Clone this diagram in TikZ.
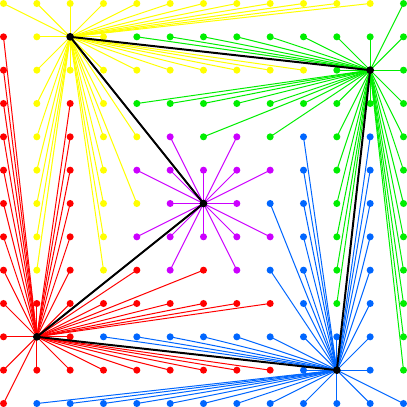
\documentclass[tikz,border=0pt]{standalone}

\definecolor{ptY}{RGB}{255,255,0}
\definecolor{ptG}{RGB}{0,238,0}
\definecolor{ptB}{RGB}{0,102,255}
\definecolor{ptR}{RGB}{255,0,0}
\definecolor{ptP}{RGB}{204,0,255}

\tikzset{
    spoke/.style={line width=0.85pt},
    site/.style={radius=3pt},
    hub/.style={radius=3.3pt},
    frame/.style={line width=1.7pt, line join=round}
}

\begin{document}
\begin{tikzpicture}[
    x=1cm,
    y=-1cm
]
\useasboundingbox (-0.105,-0.105) rectangle (12.105,12.105);

% 1. Hub positions
\coordinate (cY) at (2,1);
\coordinate (cG) at (11,2);
\coordinate (cB) at (10,11);
\coordinate (cR) at (1,10);
\coordinate (cP) at (6,6);

% 2. Hub of every grid point, row by row (o = the hub itself)
\def\hubmap{%
    {Y,Y,Y,Y,Y,Y,Y,Y,Y,Y,Y,Y,G},
    {R,Y,o,Y,G,G,G,G,G,G,G,G,G},
    {R,Y,Y,Y,Y,Y,Y,Y,Y,Y,G,o,G},
    {R,Y,R,Y,G,G,G,G,G,G,G,G,G},
    {R,Y,R,Y,Y,P,G,P,G,B,G,B,G},
    {R,Y,R,Y,P,P,P,P,P,B,G,B,G},
    {R,Y,R,Y,Y,P,o,P,B,B,G,B,G},
    {R,Y,R,Y,P,P,P,P,P,B,G,B,G},
    {R,Y,R,Y,R,P,R,P,B,B,G,B,G},
    {R,R,R,R,R,R,R,R,R,B,G,B,G},
    {R,o,R,B,B,B,B,B,B,B,B,B,G},
    {R,R,R,R,R,R,R,R,R,B,o,B,G},
    {R,B,B,B,B,B,B,B,B,B,B,B,B}}

% 3. Spokes from each hub to its points
\foreach \row [count=\y from 0] in \hubmap {
    \foreach \c [count=\x from 0] in \row {
        \coordinate (p-\x-\y) at (\x,\y);
        \if o\c\else
            \draw[spoke, draw=pt\c] (c\c) -- (p-\x-\y);
        \fi
    }
}

% 4. Grid points
\foreach \row [count=\y from 0] in \hubmap {
    \foreach \c [count=\x from 0] in \row {
        \if o\c\else
            \fill[pt\c] (p-\x-\y) circle[site];
        \fi
    }
}

% 5. Outline through the hubs
\draw[frame] (cY) -- (cG) -- (cB) -- (cR) -- (cP) -- cycle;

% 6. Hubs
\foreach \h in {cY,cG,cB,cR,cP}
    \fill (\h) circle[hub];

\end{tikzpicture}
\end{document}
